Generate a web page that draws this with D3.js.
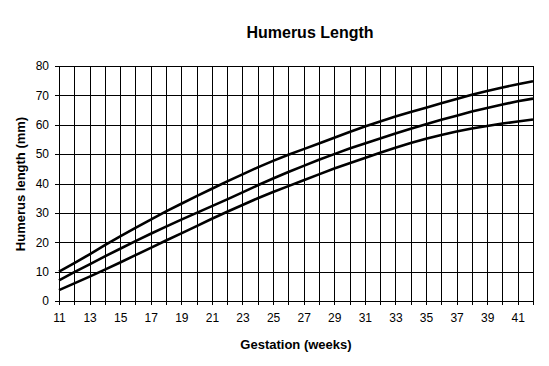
<!DOCTYPE html>
<html>
<head>
<meta charset="utf-8">
<script src="https://cdn.jsdelivr.net/npm/d3@7"></script>
<style>
  body { margin: 0; background: #fff; }
  svg { display: block; font-family: Arial, "Liberation Sans", sans-serif; }
  .grid line { stroke: #000; stroke-width: 1; shape-rendering: crispEdges; }
  .grid path { display: none; }
  .axis path, .axis line { stroke: #000; stroke-width: 1; shape-rendering: crispEdges; }
  .axis text { font-size: 12px; fill: #000; }
</style>
</head>
<body>
<svg width="549" height="366"></svg>
<script>
// weeks of gestation
var weeks = [11, 12, 13, 14, 15, 16, 17, 18, 19, 20, 21, 22, 23, 24, 25, 26,
    27, 28, 29, 30, 31, 32, 33, 34, 35, 36, 37, 38, 39, 40, 41, 42];

// upper curve (mm)
var upperValues = [10.0, 12.9, 15.9, 19.0, 22.0, 24.9, 27.7, 30.5, 33.1, 35.7, 38.2, 40.7,
    43.1, 45.5, 47.7, 49.8, 51.7, 53.6, 55.6, 57.5, 59.4, 61.1, 62.8, 64.3,
    65.8, 67.3, 68.8, 70.2, 71.5, 72.7, 73.8, 74.8];

// middle curve (mm)
var middleValues = [7.0, 9.8, 12.5, 15.2, 17.8, 20.4, 22.9, 25.3, 27.7, 30.0, 32.3, 34.6,
    37.0, 39.4, 41.7, 43.9, 46.0, 48.1, 50.0, 51.9, 53.6, 55.3, 57.0, 58.6,
    60.2, 61.7, 63.1, 64.5, 65.7, 66.9, 68.0, 68.9];

// lower curve (mm)
var lowerValues = [3.7, 6.0, 8.3, 10.7, 13.1, 15.6, 18.1, 20.6, 23.0, 25.5, 28.0, 30.4,
    32.7, 35.0, 37.1, 39.1, 41.1, 43.1, 45.1, 46.9, 48.7, 50.5, 52.2, 53.8,
    55.2, 56.5, 57.7, 58.7, 59.6, 60.4, 61.1, 61.8];

var yTicks = [0, 10, 20, 30, 40, 50, 60, 70, 80];

var svg = d3.select("svg");

// scales
var x = d3.scaleLinear().domain([11, 42]).range([59, 533]);
var y = d3.scaleLinear().domain([0, 80]).range([301, 66]);

// gridlines
svg.append("g")
    .attr("class", "grid")
    .attr("transform", "translate(0,301)")
    .call(d3.axisBottom(x).tickValues(weeks.slice(1)).tickSize(-235).tickFormat(""));
svg.append("g")
    .attr("class", "grid")
    .attr("transform", "translate(59,0)")
    .call(d3.axisLeft(y).tickValues(yTicks.slice(1)).tickSize(-474).tickFormat(""));

// x axis
svg.append("g")
    .attr("class", "axis")
    .attr("transform", "translate(0,301)")
    .call(d3.axisBottom(x).tickValues(weeks).tickSizeInner(4).tickSizeOuter(0)
        .tickPadding(8)
        .tickFormat(function (d) {
            return d % 2 == 1 ? d : "";
        }));

// y axis
svg.append("g")
    .attr("class", "axis")
    .attr("transform", "translate(59,0)")
    .call(d3.axisLeft(y).tickValues(yTicks).tickSizeInner(4).tickSizeOuter(0)
        .tickPadding(6));

// curves
var line = d3.line()
    .x(function (d, i) { return x(weeks[i]); })
    .y(function (d) { return y(d); });

[upperValues, middleValues, lowerValues].forEach(function (s) {
    svg.append("path")
        .datum(s)
        .attr("fill", "none")
        .attr("stroke", "#000")
        .attr("stroke-width", 2.6)
        .attr("d", line);
});

// titles
svg.append("text")
    .attr("x", 310)
    .attr("y", 38)
    .attr("text-anchor", "middle")
    .style("font-size", "16px")
    .style("font-weight", "bold")
    .text("Humerus Length");

svg.append("text")
    .attr("x", 296)
    .attr("y", 349)
    .attr("text-anchor", "middle")
    .style("font-size", "13px")
    .style("font-weight", "bold")
    .text("Gestation (weeks)");

svg.append("text")
    .attr("transform", "translate(25,184) rotate(-90)")
    .attr("text-anchor", "middle")
    .style("font-size", "13px")
    .style("font-weight", "bold")
    .text("Humerus length (mm)");
</script>
</body>
</html>
